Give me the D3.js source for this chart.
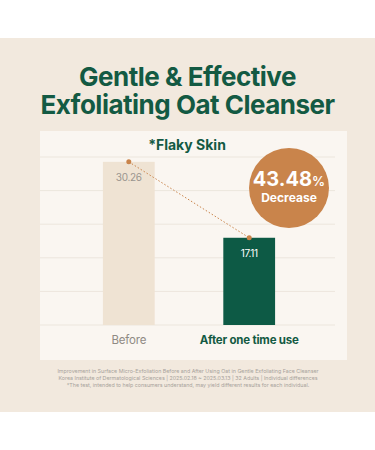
<!DOCTYPE html>
<html>
<head>
<meta charset="utf-8">
<script src="https://cdn.jsdelivr.net/npm/d3@7"></script>
<style>
  body { margin: 0; background: #fff; }
  svg { display: block; }
</style>
</head>
<body>
<script>
// chart values
const categories = ["Before", "After one time use"];
const values = [30.26, 17.11];
const valueLabels = ["30.26", "17.11"];
const changeLabel = "43.48";
const titleLines = ["Gentle & Effective", "Exfoliating Oat Cleanser"];
const noteLines = [
  "Improvement in Surface Micro-Exfoliation Before and After Using Oat in Gentle Exfoliating Face Cleanser",
  "Korea Institute of Dermatological Sciences | 2025.02.18 ~ 2025.03.13 | 32 Adults | Individual differences",
  "*The test, intended to help consumers understand, may yield different results for each individual."
];

const w = 375, h = 450;
const green = "#135a43", orange = "#c9844b";
const font = "Inter, 'Noto Sans', sans-serif";

const svg = d3.select("body").append("svg").attr("width", w).attr("height", h);

// backgrounds
svg.append("rect").attr("x", 0).attr("y", 38).attr("width", w).attr("height", 374).attr("fill", "#f2e9de");
svg.append("rect").attr("x", 40).attr("y", 131).attr("width", 307).attr("height", 229).attr("fill", "#faf6f1");

// title
svg.selectAll(".title").data(titleLines).enter().append("text")
  .attr("x", w / 2)
  .attr("y", (d, i) => 86 + i * 28)
  .attr("text-anchor", "middle")
  .style("font", "700 26px " + font)
  .style("letter-spacing", "-0.5px")
  .attr("fill", green)
  .text(d => d);

svg.append("text")
  .attr("x", 187).attr("y", 150)
  .attr("text-anchor", "middle")
  .style("font", "700 14px " + font)
  .attr("fill", green)
  .text("*Flaky Skin");

// scales
let x = d3.scaleBand().domain(categories).range([68, 310]).paddingInner(0.57).paddingOuter(0.29);
let y = d3.scaleLinear().domain([2, 31.1]).range([325, 157]);

// grid
let grid = d3.range(6).map(i => 2 + i * (31.1 - 2) / 5);
svg.selectAll(".grid").data(grid).enter().append("line")
  .attr("x1", 40).attr("x2", 335)
  .attr("y1", d => y(d)).attr("y2", d => y(d))
  .attr("stroke", "#ece6dd").attr("stroke-width", 1);

// bars
svg.selectAll(".bar").data(values).enter().append("rect")
  .attr("x", (d, i) => x(categories[i]))
  .attr("y", d => y(d))
  .attr("width", x.bandwidth())
  .attr("height", d => y(2) - y(d))
  .attr("fill", (d, i) => i === 0 ? "#efe3d3" : "#0d5a45");

// value labels
svg.selectAll(".val").data(values).enter().append("text")
  .attr("x", (d, i) => x(categories[i]) + x.bandwidth() / 2)
  .attr("y", d => y(d) + 19)
  .attr("text-anchor", "middle")
  .style("font", "400 10px " + font)
  .style("letter-spacing", "-0.3px")
  .attr("fill", (d, i) => i === 0 ? "#9a958f" : "#ffffff")
  .text((d, i) => valueLabels[i]);

// dotted connector
let pts = values.map((d, i) => [x(categories[i]) + x.bandwidth() / 2, y(d)]);
svg.append("path")
  .attr("d", d3.line()(pts))
  .attr("fill", "none")
  .attr("stroke", orange)
  .attr("stroke-width", 1)
  .attr("stroke-dasharray", "1.5,2");
svg.selectAll(".dot").data(pts).enter().append("circle")
  .attr("cx", d => d[0]).attr("cy", d => d[1]).attr("r", 2.5)
  .attr("fill", orange);

// category labels
svg.selectAll(".cat").data(categories).enter().append("text")
  .attr("x", d => x(d) + x.bandwidth() / 2)
  .attr("y", 344)
  .attr("text-anchor", "middle")
  .style("font", (d, i) => (i === 0 ? "400" : "700") + " 11.5px " + font)
  .style("letter-spacing", "-0.2px")
  .attr("fill", (d, i) => i === 0 ? "#8f8a84" : green)
  .text(d => d);

// decrease badge
svg.append("circle").attr("cx", 289).attr("cy", 188).attr("r", 40).attr("fill", orange);
let big = svg.append("text")
  .attr("x", 289).attr("y", 185.5)
  .attr("text-anchor", "middle")
  .attr("fill", "#fff")
  .style("font", "700 20px " + font);
big.append("tspan").text(changeLabel);
big.append("tspan").style("font-size", "13px").style("font-weight", "600").text("%");
svg.append("text")
  .attr("x", 289).attr("y", 202)
  .attr("text-anchor", "middle")
  .attr("fill", "#fff")
  .style("font", "700 12px " + font)
  .text("Decrease");

// footnote
svg.selectAll(".note").data(noteLines).enter().append("text")
  .attr("x", 188)
  .attr("y", (d, i) => 373 + i * 7)
  .attr("text-anchor", "middle")
  .style("font", "400 5.3px " + font)
  .attr("fill", "#a7a29b")
  .text(d => d);
</script>
</body>
</html>
